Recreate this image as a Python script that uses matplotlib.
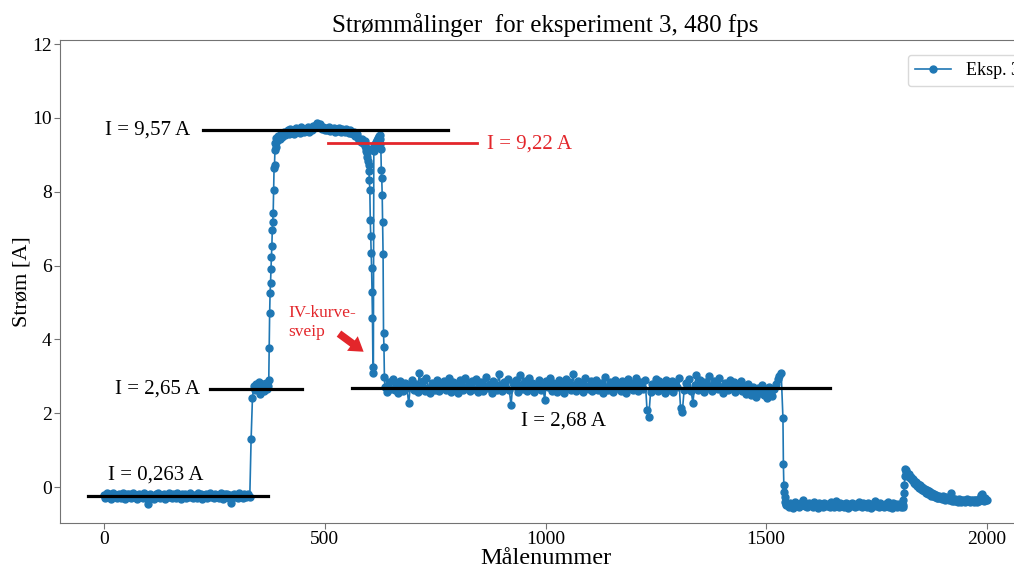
import numpy as np
import matplotlib
matplotlib.use("Agg")
import matplotlib.pyplot as plt

plt.rcParams['font.family'] = ['Liberation Serif', 'DejaVu Serif']

# Maaledata, eksperiment 3 (avlest fra figur)
tomgang_y = [-0.22, -0.30, -0.17, -0.26, -0.20, -0.32, -0.24, -0.16, -0.28, -0.21,
             -0.31, -0.19, -0.25, -0.29, -0.15, -0.23, -0.33, -0.20, -0.27, -0.18,
             -0.30, -0.24, -0.16, -0.28, -0.22, -0.32, -0.19, -0.26, -0.21, -0.29,
             -0.17, -0.25, -0.31, -0.47, -0.23, -0.18, -0.28, -0.24, -0.32, -0.20,
             -0.27, -0.16, -0.30, -0.22, -0.25, -0.19, -0.33, -0.21, -0.28, -0.17,
             -0.26, -0.31, -0.20, -0.24, -0.29, -0.15, -0.27, -0.22, -0.32, -0.19,
             -0.25, -0.18, -0.30, -0.23, -0.28, -0.16, -0.26, -0.31, -0.21, -0.24,
             -0.29, -0.17, -0.27, -0.20, -0.33, -0.22, -0.25, -0.18, -0.30, -0.24,
             -0.16, -0.28, -0.21, -0.31, -0.19, -0.26, -0.23, -0.29, -0.17, -0.27,
             -0.32, -0.20, -0.24, -0.18, -0.30, -0.22, -0.44, -0.26, -0.19, -0.28,
             -0.21, -0.31, -0.17, -0.25, -0.23, -0.29, -0.20, -0.27, -0.24, -0.19,
             -0.26]
trinn_x = [333, 336, 339, 342, 345, 348, 351, 354, 357, 360, 363, 366, 369, 372]
trinn_y = [1.30, 2.40, 2.75, 2.62, 2.80, 2.68, 2.85, 2.52, 2.72, 2.78, 2.60, 2.82, 2.66, 2.74]
stigning_y = [2.90, 3.77, 4.71, 5.26, 5.53, 5.91, 6.23, 6.53, 6.96, 7.18, 7.42, 8.05,
              8.64, 8.73, 9.13, 9.32, 9.22, 9.45]
hoy_y = [9.38, 9.50, 9.44, 9.57, 9.48, 9.62, 9.53, 9.58, 9.66, 9.55,
         9.70, 9.60, 9.67, 9.57, 9.72, 9.63, 9.69, 9.59, 9.74, 9.65,
         9.61, 9.71, 9.66, 9.75, 9.63, 9.70, 9.68, 9.77, 9.72, 9.80,
         9.86, 9.79, 9.83, 9.73, 9.70, 9.76, 9.66, 9.72, 9.68, 9.75,
         9.64, 9.71, 9.67, 9.73, 9.62, 9.69, 9.65, 9.72, 9.63, 9.70,
         9.66, 9.61, 9.69, 9.64, 9.58, 9.66, 9.60, 9.55, 9.62, 9.50,
         9.56, 9.46, 9.40, 9.35, 9.42, 9.31, 9.38]
sveip_y = [9.25, 9.10, 9.18, 9.05, 8.95, 9.15, 8.82, 8.73, 8.55, 8.32,
           8.05, 7.24, 6.79, 6.34, 5.93, 5.29, 4.57, 3.26, 3.09, 9.10,
           9.25, 9.18, 9.30, 9.22, 9.35, 9.20, 9.40, 9.28, 9.45, 9.32,
           9.50, 9.38, 9.54, 9.42, 9.30, 9.15, 8.59, 8.38, 7.91, 7.19,
           6.31, 4.17, 3.80, 2.99, 2.70]
midt_y = [2.70, 2.58, 2.84, 2.66, 2.93, 2.62, 2.78, 2.55, 2.88, 2.72,
          2.60, 2.81, 2.68, 2.27, 2.75, 2.90, 2.63, 2.79, 2.57, 3.08,
          2.74, 2.86, 2.61, 2.95, 2.69, 2.56, 2.83, 2.77, 2.64, 2.91,
          2.59, 2.80, 2.71, 2.87, 2.62, 2.76, 2.94, 2.58, 2.85, 2.67,
          2.79, 2.55, 2.89, 2.73, 2.63, 2.96, 2.70, 2.82, 2.60, 2.87,
          2.65, 2.92, 2.57, 2.78, 2.84, 2.61, 2.74, 2.97, 2.68, 2.80,
          2.56, 2.88, 2.71, 2.64, 3.06, 2.76, 2.59, 2.85, 2.69, 2.93,
          2.62, 2.22, 2.81, 2.73, 2.90, 2.58, 3.04, 2.77, 2.66, 2.86,
          2.60, 2.94, 2.72, 2.83, 2.57, 2.79, 2.68, 2.91, 2.63, 2.75,
          2.36, 2.87, 2.70, 2.95, 2.61, 2.82, 2.74, 2.58, 2.89, 2.66,
          2.78, 2.55, 2.92, 2.71, 2.84, 2.63, 3.05, 2.76, 2.60, 2.88,
          2.69, 2.81, 2.57, 2.94, 2.73, 2.65, 2.86, 2.59, 2.79, 2.90,
          2.62, 2.75, 2.83, 2.56, 2.97, 2.70, 2.64, 2.85, 2.72, 2.58,
          2.91, 2.67, 2.80, 2.60, 2.88, 2.74, 2.55, 2.93, 2.69, 2.82,
          2.63, 2.77, 2.95, 2.59, 2.84, 2.71, 2.66, 2.89, 2.09, 1.90,
          2.57, 2.80, 2.72, 2.92, 2.61, 2.86, 2.68, 2.78, 2.55, 2.90,
          2.74, 2.63, 2.87, 2.58, 2.81, 2.70, 2.96, 2.14, 2.04, 2.62,
          2.83, 2.66, 2.93, 2.59, 2.28, 2.76, 3.03, 2.64, 2.89, 2.71,
          2.57, 2.85, 2.68, 3.00, 2.73, 2.60, 2.88, 2.79, 2.65, 2.94,
          2.70, 2.56, 2.82, 2.75, 2.62, 2.91, 2.67, 2.84, 2.58, 2.78,
          2.69, 2.87, 2.61, 2.74, 2.53, 2.80, 2.66, 2.48, 2.72, 2.59,
          2.44, 2.68, 2.55, 2.76, 2.50, 2.63, 2.42, 2.70, 2.57, 2.47,
          2.66, 2.80, 2.93, 3.02, 3.09]
fall_y = [1.86, 0.62, 0.05, -0.13, -0.26, -0.40, -0.50, -0.45]
lav_y = [-0.47, -0.53, -0.43, -0.50, -0.56, -0.45, -0.40, -0.51, -0.48, -0.54,
         -0.44, -0.50, -0.36, -0.52, -0.47, -0.55, -0.42, -0.49, -0.46, -0.53,
         -0.41, -0.51, -0.48, -0.56, -0.44, -0.50, -0.46, -0.54, -0.43, -0.49,
         -0.52, -0.45, -0.55, -0.41, -0.48, -0.53, -0.46, -0.38, -0.50, -0.55,
         -0.44, -0.52, -0.47, -0.54, -0.42, -0.49, -0.56, -0.45, -0.51, -0.43,
         -0.50, -0.55, -0.46, -0.52, -0.40, -0.48, -0.54, -0.44, -0.51, -0.47,
         -0.53, -0.42, -0.49, -0.56, -0.45, -0.50, -0.37, -0.52, -0.47, -0.54,
         -0.43, -0.51, -0.48, -0.55, -0.46, -0.50, -0.41, -0.53, -0.49, -0.56,
         -0.44, -0.52, -0.47, -0.54, -0.45, -0.50, -0.55, -0.48]
topp_y = [-0.53, -0.35, -0.16, 0.05, 0.30, 0.49, 0.45, 0.40]
avtak_y = [0.38, 0.30, 0.34, 0.24, 0.28, 0.18, 0.22, 0.12, 0.17, 0.08,
           0.13, 0.04, 0.09, -0.02, 0.05, -0.06, 0.01, -0.09, -0.03, -0.12,
           -0.06, -0.15, -0.09, -0.18, -0.12, -0.20, -0.14, -0.23, -0.17, -0.25,
           -0.19, -0.27, -0.21, -0.29, -0.23, -0.30, -0.24, -0.31, -0.26, -0.33,
           -0.25, -0.32, -0.27, -0.35, -0.28, -0.33, -0.30, -0.36, -0.29, -0.15,
           -0.31, -0.37, -0.32, -0.39, -0.33, -0.37, -0.34, -0.40, -0.33, -0.38,
           -0.35, -0.40, -0.34, -0.38, -0.36, -0.41, -0.35, -0.39, -0.33, -0.38,
           -0.36, -0.40, -0.34, -0.39, -0.35, -0.41, -0.36, -0.38, -0.34, -0.40,
           -0.35, -0.38, -0.30, -0.22, -0.18, -0.27, -0.33, -0.37, -0.31, -0.36,
           -0.34]

x = np.concatenate([np.arange(len(tomgang_y)) * 3,
                    trinn_x,
                    373 + np.arange(len(stigning_y)),
                    392 + np.arange(len(hoy_y)) * 3,
                    592 + np.arange(len(sveip_y)),
                    638 + np.arange(len(midt_y)) * 4,
                    1538 + np.arange(len(fall_y)),
                    1548 + np.arange(len(lav_y)) * 3,
                    1810 + np.arange(len(topp_y)),
                    1820 + np.arange(len(avtak_y)) * 2])
y = np.concatenate([tomgang_y, trinn_y, stigning_y, hoy_y, sveip_y, midt_y,
                    fall_y, lav_y, topp_y, avtak_y])

# Middelverdier tegnet inn (start, slutt, nivaa)
linjer_sort = [(224, 780, 9.67), (240, 448, 2.65), (561, 1645, 2.68), (-36, 372, -0.235)]
linje_rod = (508, 845, 9.31)
rod = '#e3262b'

fig = plt.figure(figsize=(10.14, 5.69), dpi=100)
ax = fig.add_axes([60/1014, 1-523/569, 971/1014, 483/569])

ax.plot(x, y, '-o', color='#1f77b4', lw=1.2, ms=5, label='Eksp. 3', zorder=2)

for x0, x1, nv in linjer_sort:
    ax.plot([x0, x1], [nv, nv], color='black', lw=2.3, zorder=3)
ax.plot([linje_rod[0], linje_rod[1]], [linje_rod[2], linje_rod[2]], color=rod, lw=2.0, zorder=3)

ax.text(2, 9.67, 'I = 9,57 A', fontsize=15, va='center')
ax.text(868, 9.30, 'I = 9,22 A', fontsize=15, va='center', color=rod)
ax.text(25, 2.65, 'I = 2,65 A', fontsize=15, va='center')
ax.text(945, 1.79, 'I = 2,68 A', fontsize=15, va='center')
ax.text(9, 0.33, 'I = 0,263 A', fontsize=15, va='center')
ax.text(417, 4.46, 'IV-kurve-\nsveip', fontsize=12.5, color=rod, va='center', linespacing=1.2)
ax.annotate('', xy=(593, 3.62), xytext=(527, 4.2),
            arrowprops=dict(arrowstyle='simple,head_length=1.0,head_width=1.3,tail_width=0.55',
                            color=rod, lw=0))

ax.set_xlim(-100, 2100)
ax.set_ylim(-0.975, 12.11)
ax.set_xticks([0, 500, 1000, 1500, 2000])
ax.set_yticks([0, 2, 4, 6, 8, 10, 12])
ax.tick_params(labelsize=14, color='0.45', length=4, pad=2)
for s in ax.spines.values():
    s.set_color('0.45')

ax.set_title('Strømmålinger  for eksperiment 3, 480 fps', fontsize=18)
ax.set_xlabel('Målenummer', fontsize=17.5, labelpad=0)
ax.set_ylabel('Strøm [A]', fontsize=16)
ax.yaxis.set_label_coords(-0.029, 0.5)
ax.legend(loc='upper right', bbox_to_anchor=(1.005, 0.988), fontsize=13,
          framealpha=1, edgecolor='0.85')

fig.savefig('out.png', dpi=100)
